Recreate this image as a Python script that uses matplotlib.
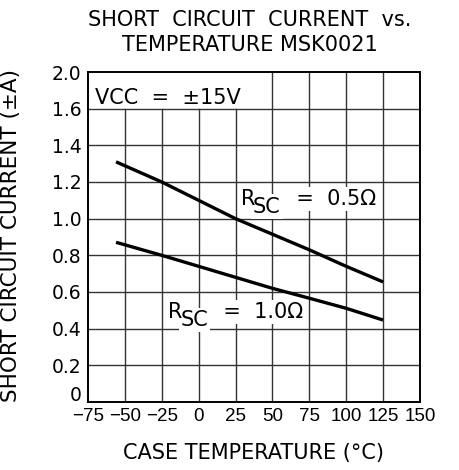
import matplotlib
matplotlib.use("Agg")
import matplotlib.pyplot as plt
from matplotlib.transforms import ScaledTranslation

# Data
temp_05 = [-56, -25, 0, 25, 50, 75, 100, 125]
curr_05 = [1.31, 1.20, 1.10, 1.00, 0.915, 0.83, 0.74, 0.655]
temp_10 = [-56, -25, 0, 25, 50, 75, 100, 125]
curr_10 = [0.871, 0.80, 0.74, 0.68, 0.62, 0.566, 0.511, 0.447]

x_ticks = [-75, -50, -25, 0, 25, 50, 75, 100, 125, 150]
x_labels = ["\u221275", "\u221250", "\u221225", "0", "25", "50", "75", "100", "125", "150"]
y_ticks = [0, 0.2, 0.4, 0.6, 0.8, 1.0, 1.2, 1.4, 1.6, 1.8]
y_labels = ["0", "0.2", "0.4", "0.6", "0.8", "1.0", "1.2", "1.4", "1.6", "2.0"]

title = "SHORT  CIRCUIT  CURRENT  vs.\nTEMPERATURE MSK0021"
xlabel = "CASE TEMPERATURE (\u00b0C)"
ylabel = "SHORT CIRCUIT CURRENT (\u00b1A)"
vcc_text = "VCC  =  \u00b115V"
rsc_main = "R"
rsc_sub = "SC"
val_05 = "  =  0.5\u03a9"
val_10 = "  =  1.0\u03a9"
lab_05_pos = (28.6, 1.075)
lab_10_pos = (-20.5, 0.458)

plt.rcParams['font.family'] = ['DejaVu Sans']

fig = plt.figure(figsize=(4.6, 4.7), dpi=100)
ax = fig.add_axes([0.1913, 0.1447, 0.7217, 0.7021])
ax.set_xlim(x_ticks[0], x_ticks[-1])
ax.set_ylim(y_ticks[0], y_ticks[-1])

# grid (box for VCC note in upper-left has no grid)
box_right = 50
for x in x_ticks[1:-1]:
    top = y_ticks[-2] if x < box_right else y_ticks[-1]
    ax.plot([x, x], [y_ticks[0], top], color="#333333", lw=1.0, zorder=1)
for y in y_ticks[1:-1]:
    ax.plot([x_ticks[0], x_ticks[-1]], [y, y], color="#333333", lw=1.0, zorder=1)

ax.plot(temp_05, curr_05, color="black", lw=2.4, zorder=3, solid_capstyle="butt")
ax.plot(temp_10, curr_10, color="black", lw=2.4, zorder=3, solid_capstyle="butt")

fs = 15
ax.text(-70.2, 1.627, vcc_text, fontsize=fs, va="baseline", ha="left")

bb = dict(facecolor="white", edgecolor="none", pad=1.5)
for pos, val in ((lab_05_pos, val_05), (lab_10_pos, val_10)):
    ax.annotate(rsc_sub, xy=pos, xycoords="data", xytext=(8.8, -5.5),
                textcoords="offset points", fontsize=fs,
                va="baseline", ha="left", bbox=bb, zorder=4)
    ax.annotate(val, xy=pos, xycoords="data", xytext=(30, 0),
                textcoords="offset points", fontsize=fs,
                va="baseline", ha="left", bbox=bb, zorder=4)
    ax.annotate(rsc_main, xy=pos, xycoords="data", fontsize=fs,
                va="baseline", ha="left", zorder=5)

ax.set_xticks(x_ticks)
ax.set_xticklabels(x_labels, family=["Liberation Sans", "DejaVu Sans"], fontsize=13.5)
ax.set_yticks(y_ticks)
ax.set_yticklabels(y_labels, fontsize=13.5)
ax.tick_params(length=0)
ax.tick_params(axis="y", pad=4.5)
ax.tick_params(axis="x", pad=4.5)
for s in ax.spines.values():
    s.set_linewidth(1.4)

# the "0" label sits a little above the bottom edge in the reference
zero_lab = ax.get_yticklabels()[0]
zero_lab.set_transform(zero_lab.get_transform() +
                       ScaledTranslation(0, 6 / 72, fig.dpi_scale_trans))

ax.set_xlabel(xlabel, fontsize=15, labelpad=13)
ax.set_ylabel(ylabel, fontsize=15.5)
ax.yaxis.set_label_coords(-0.202, 0.505)
fig.text(0.543, 0.978, title, fontsize=15, ha="center", va="top", linespacing=1.3)

fig.savefig("out.png", dpi=100)
